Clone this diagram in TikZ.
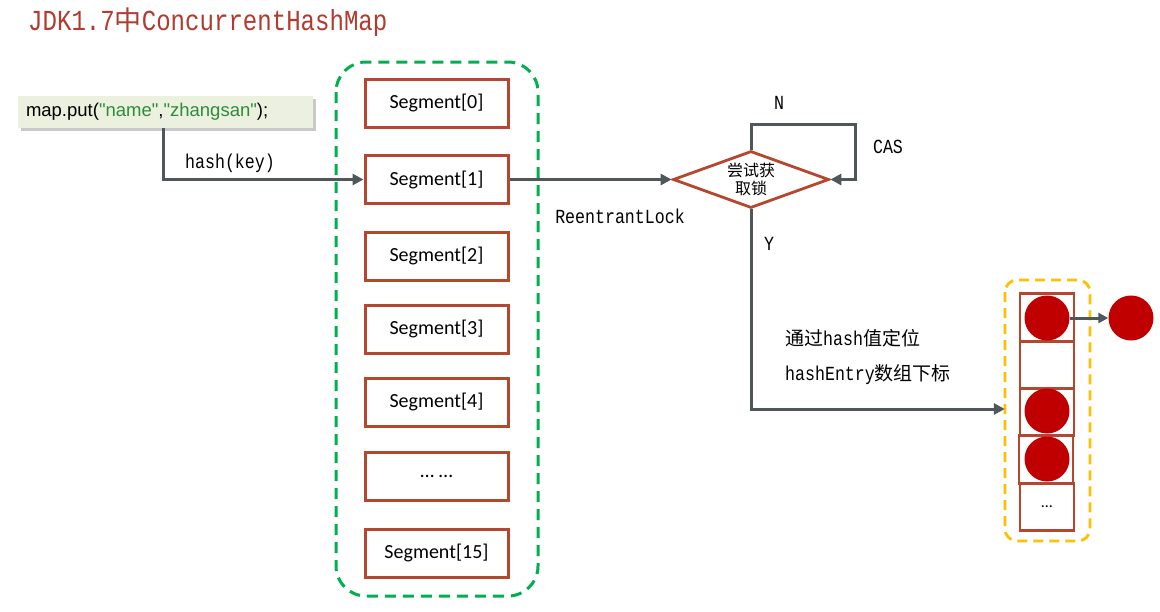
\documentclass[tikz,border=0pt]{standalone}
\usepackage{fontspec}
\setmainfont{Liberation Sans}
\newfontfamily\putf{Liberation Sans}
\newfontfamily\cjk{Noto Sans CJK SC}
\newfontfamily\monof[FakeStretch=0.83]{Liberation Mono}
\newfontfamily\segf{Carlito}
\usetikzlibrary{arrows.meta,shapes.geometric,shadows}
\definecolor{segred}{HTML}{B5472E}
\definecolor{linegray}{HTML}{4F5759}
\definecolor{dgreen}{HTML}{00B050}
\definecolor{yel}{HTML}{FFC000}
\definecolor{ball}{HTML}{C00000}
\definecolor{titlered}{HTML}{B23A2E}
\definecolor{putbg}{HTML}{EBF1DE}
\definecolor{strgreen}{HTML}{2E8B3A}
\tikzset{
  segbox/.style={draw=segred, line width=3pt, minimum width=143pt, minimum height=48pt, inner sep=0pt, font=\segf\fontsize{20}{24}\selectfont},
  cell/.style={draw=segred, line width=2.6pt, minimum width=54pt, minimum height=47.5pt, inner sep=0pt},
  ballst/.style={circle, fill=ball, minimum size=45pt, inner sep=0pt},
  conn/.style={draw=linegray, line width=3pt, -{Triangle[length=11pt,width=11pt]}},
  lbl/.style={font=\monof\fontsize{20}{24}\selectfont, inner sep=0pt},
}
\begin{document}
\begin{tikzpicture}[x=1pt,y=-1pt]
\fill[white] (0,0) rectangle (1160,611);
\useasboundingbox (0,0) rectangle (1160,611);

% title
\node[anchor=west, inner sep=0pt, text=titlered, font=\monof\fontsize{29}{33}\selectfont] (title) at (28,22) {JDK1.7{\cjk\fontsize{27}{30}\selectfont 中}ConcurrentHashMap};

% map.put box
\node[fill=putbg, text width=279pt, align=left, inner xsep=8pt, minimum height=32pt, inner ysep=0pt,
      drop shadow={shadow xshift=3pt, shadow yshift=-3pt, opacity=0.35, fill=black!60},
      font=\putf\fontsize{18.5}{22}\selectfont] (put) at (165.5,112)
  {map.put(\textcolor{strgreen}{"name"},\textcolor{strgreen}{"zhangsan"});};

% green container
\draw[dgreen, line width=3pt, dash pattern=on 11pt off 7pt, rounded corners=30pt] (336,62) rectangle (538,596);
\node[inner sep=0pt, minimum width=202pt, minimum height=534pt] (segs) at (437,329) {};

% segments
\node[segbox] (s0) at (436.5,103) {Segment[0]};
\node[segbox] (s1) at (436.5,179.5) {Segment[1]};
\node[segbox] (s2) at (436.5,256) {Segment[2]};
\node[segbox] (s3) at (436.5,329) {Segment[3]};
\node[segbox] (s4) at (436.5,402) {Segment[4]};
\node[segbox] (s5) at (436.5,476.5) {\dots\ \dots};
\node[segbox] (s15) at (436.5,553) {Segment[15]};

% hash(key)
\draw[conn] ([xshift=-2.5pt]put.south) |- (s1.west);
\node[lbl] (hk) at (230,163) {hash(key)};

% diamond
\node[diamond, draw=segred, line width=2.8pt, minimum width=156pt, minimum height=57pt, aspect=2.74, inner sep=0pt,
      align=center, font=\cjk\fontsize{16}{19}\selectfont] (dia) at (751,179.5) {尝试获\\[-1pt]取锁};
\draw[conn] (s1.east) -- (dia.west);
\node[lbl] (rl) at (620,216) {ReentrantLock};

% loop N / CAS
\coordinate (lc) at (855,124);
\draw[conn] (dia.north) |- (lc) |- (dia.east);
\node[lbl] (nn) at (779,103) {N};
\node[lbl] (cas) at (888,147) {CAS};

% yellow container and array
\draw[yel, line width=2.8pt, dash pattern=on 10pt off 6pt, rounded corners=12pt] (1005,280) rectangle (1090,541);
\node[inner sep=0pt, minimum width=85pt, minimum height=261pt] (ybox) at (1047.5,409) {};
\node[cell] (c1) at (1047,317.5) {};
\node[cell] (c2) at (1047,365) {};
\node[cell] (c3) at (1047,412) {};
\node[cell] (c4) at (1046,459.5) {};
\node[cell, font=\segf\fontsize{16}{18}\selectfont] (c5) at (1047,507) {\dots};
\node[ballst] (b1) at (1047,318) {};
\node[ballst] (b3) at (1047,411) {};
\node[ballst] (b4) at (1047,459) {};
\node[ballst] (b6) at (1131,318) {};
\draw[draw=linegray, line width=3pt, -{Triangle[length=10pt,width=10pt]}] (b1.east) -- (b6.west);

% Y path
\draw[conn] (dia.south) |- (ybox.west);
\node[lbl] (yy) at (769,244) {Y};
\node[anchor=west, inner sep=0pt] (t1) at (785,338) {{\cjk\fontsize{19}{22}\selectfont 通过}{\monof\fontsize{20}{24}\selectfont hash}{\cjk\fontsize{19}{22}\selectfont 值定位}};
\node[anchor=west, inner sep=0pt] (t2) at (785,375) {{\monof\fontsize{20}{24}\selectfont hashEntry}{\cjk\fontsize{19}{22}\selectfont 数组下标}};
\end{tikzpicture}
\end{document}
